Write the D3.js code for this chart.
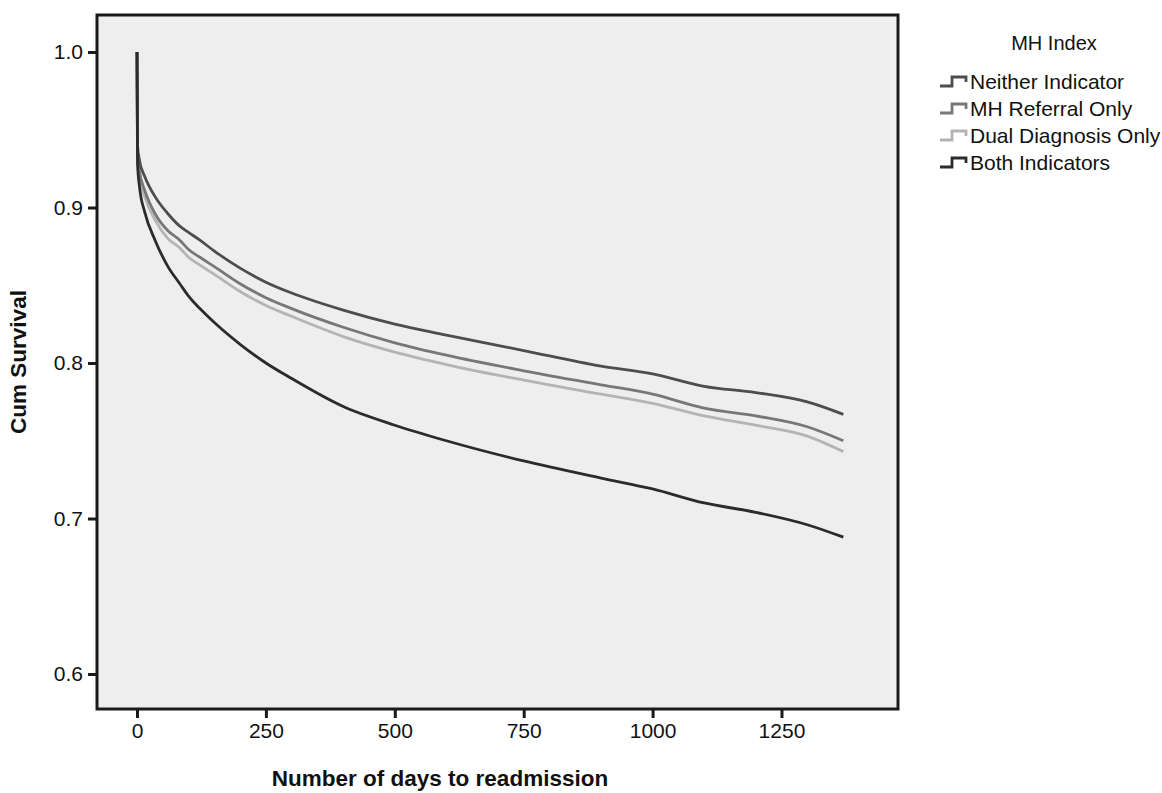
<!DOCTYPE html>
<html>
<head>
<meta charset="utf-8">
<script src="https://cdn.jsdelivr.net/npm/d3@7"></script>
<style>
  body { margin: 0; background: #fff; }
  text { font-family: "Liberation Sans", Arial, sans-serif; fill: #111; }
</style>
</head>
<body>
<div class="card"></div>
<script>
const w = 1162;
const h = 793;

const days = [0, 1, 5, 15, 35, 60, 83, 100, 122, 150, 200, 250, 300, 400, 500, 600, 750, 900, 1000, 1100, 1200, 1300, 1370];

const neither  = [1.0, 0.940, 0.930, 0.920, 0.907, 0.896, 0.888, 0.884, 0.879, 0.872, 0.861, 0.852, 0.845, 0.834, 0.825, 0.818, 0.808, 0.798, 0.793, 0.785, 0.781, 0.775, 0.767];
const referral = [1.0, 0.936, 0.923, 0.911, 0.896, 0.885, 0.879, 0.873, 0.868, 0.862, 0.851, 0.842, 0.835, 0.823, 0.813, 0.805, 0.795, 0.786, 0.780, 0.771, 0.766, 0.759, 0.750];
const dual     = [1.0, 0.934, 0.920, 0.907, 0.892, 0.880, 0.874, 0.868, 0.863, 0.857, 0.846, 0.837, 0.830, 0.817, 0.807, 0.799, 0.789, 0.780, 0.774, 0.766, 0.760, 0.753, 0.743];
const both     = [1.0, 0.928, 0.913, 0.897, 0.879, 0.862, 0.851, 0.843, 0.835, 0.826, 0.812, 0.800, 0.790, 0.772, 0.760, 0.750, 0.737, 0.726, 0.719, 0.710, 0.704, 0.696, 0.688];

const groups = ["Neither Indicator", "MH Referral Only", "Dual Diagnosis Only", "Both Indicators"];
const colors = ["#4d4d4d", "#777777", "#b4b4b4", "#2b2b2b"];
const xTicks = [0, 250, 500, 750, 1000, 1250];
const yTicks = [0.6, 0.7, 0.8, 0.9, 1.0];

var box = {left: 97, right: 898, top: 15, bottom: 709};

var svg = d3.select(".card")
			.append("svg")
			.attr("width", w)
			.attr("height", h);

var xScale = d3.scaleLinear().domain([-77.6, 1476]).range([box.left, box.right]);
var yScale = d3.scaleLinear().domain([0.5775, 1.0238]).range([box.bottom, box.top]);

svg.append("rect")
   .attr("x", box.left)
   .attr("y", box.top)
   .attr("width", box.right - box.left)
   .attr("height", box.bottom - box.top)
   .attr("fill", "#eeeeee");

var series = [neither, referral, dual, both];

var line = d3.line()
	.x((d, i) => xScale(days[i]))
	.y(d => yScale(d))
	.curve(d3.curveMonotoneX);

// lighter ones first so the dark ones sit on top
[2, 1, 0, 3].forEach(function (k) {
	svg.append("path")
	   .datum(series[k])
	   .attr("d", line)
	   .attr("fill", "none")
	   .attr("stroke", colors[k])
	   .attr("stroke-width", 2.8)
	   .attr("stroke-linejoin", "round");
});

// frame
svg.append("rect")
   .attr("x", box.left)
   .attr("y", box.top)
   .attr("width", box.right - box.left)
   .attr("height", box.bottom - box.top)
   .attr("fill", "none")
   .attr("stroke", "#1a1a1a")
   .attr("stroke-width", 3);

var xAxis = d3.axisBottom(xScale).tickValues(xTicks).tickSize(8).tickPadding(5).tickFormat(d3.format("d"));
var gx = svg.append("g")
   .attr("transform", "translate(0," + (box.bottom + 1) + ")")
   .call(xAxis);

var yAxis = d3.axisLeft(yScale).tickValues(yTicks).tickSize(8).tickPadding(5).tickFormat(d3.format(".1f"));
var gy = svg.append("g")
   .attr("transform", "translate(" + (box.left - 1) + ",0)")
   .call(yAxis);

[gx, gy].forEach(function (g) {
	g.select(".domain").remove();
	g.selectAll(".tick line").attr("stroke", "#1a1a1a").attr("stroke-width", 3);
	g.selectAll(".tick text").style("font-size", "21px").attr("fill", "#111");
});

svg.append("text")
   .attr("x", 440)
   .attr("y", 786)
   .attr("text-anchor", "middle")
   .style("font-size", "22.5px")
   .style("font-weight", "bold")
   .text("Number of days to readmission");

svg.append("text")
   .attr("transform", "translate(26,362) rotate(-90)")
   .attr("text-anchor", "middle")
   .style("font-size", "22.5px")
   .style("font-weight", "bold")
   .text("Cum Survival");

// legend
svg.append("text")
   .attr("x", 1054)
   .attr("y", 50)
   .attr("text-anchor", "middle")
   .style("font-size", "20px")
   .text("MH Index");

var leg = svg.append("g").selectAll("g")
	.data(groups)
	.enter().append("g")
	.attr("transform", (d, i) => "translate(940," + (82 + i * 27) + ")");

leg.append("path")
   .attr("d", "M0,4 H12 V-5 H26 V0")
   .attr("fill", "none")
   .attr("stroke", (d, i) => colors[i])
   .attr("stroke-width", 2.8);

leg.append("text")
   .attr("x", 30)
   .attr("y", 7)
   .style("font-size", "21px")
   .text(d => d);
</script>
</body>
</html>
